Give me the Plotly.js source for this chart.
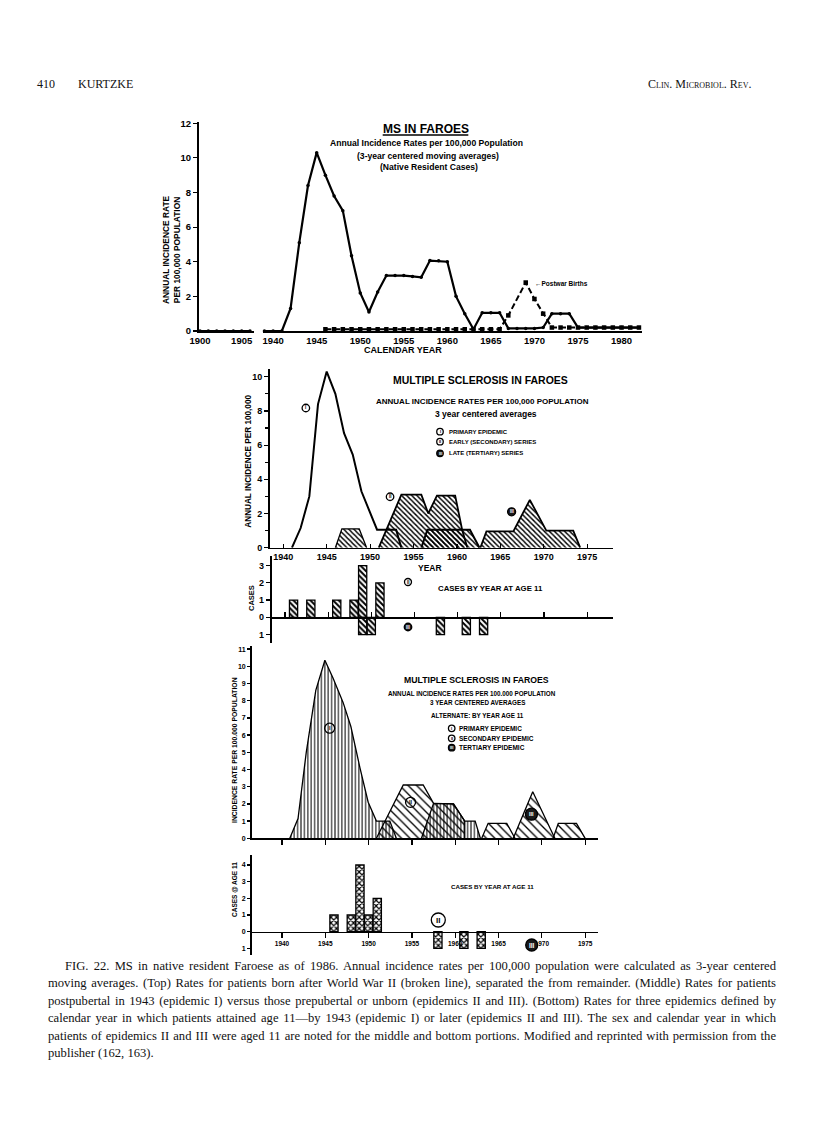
<!DOCTYPE html>
<html>
<head>
<meta charset="utf-8">
<script src="https://cdn.plot.ly/plotly-3.0.1.min.js"></script>
<style>
  body { margin:0; padding:0; background:#fff; }
  #chart { position:absolute; left:0; top:0; width:816px; height:1132px; }
  #caption { position:absolute; left:48px; top:958px; width:728px;
             font-family:'Liberation Serif', serif; font-size:12.6px; line-height:17.4px; color:#111; }
  #caption div { text-align:justify; text-align-last:justify; white-space:nowrap; }
  #caption div.first { padding-left:17px; }
  #caption div.last { text-align-last:left; }
</style>
</head>
<body>
<div id="chart"></div>
<div id="caption"></div>
<script>
// ---------------- DATA ----------------
// Top panel: all native resident cases (3-year centered moving averages)
const earlyYears = [1900, 1901, 1902, 1903, 1904, 1905, 1906];
const earlyRates = [0, 0, 0, 0, 0, 0, 0];
const calYears = [1938,1939,1940,1941,1942,1943,1944,1945,1946,1947,1948,1949,1950,1951,1952,1953,1954,1955,1956,1957,1958,1959,1960,1961,1962,1963,1964,1965,1966,1967,1968,1969,1970,1971,1972,1973,1974,1975,1976,1977,1978,1979,1980,1981,1982];
const allRates = [0,0,0,0,1.3,5.1,8.4,10.3,9.0,7.8,6.95,4.35,2.2,1.1,2.25,3.2,3.2,3.2,3.15,3.1,4.07,4.05,4.0,2.0,1.0,0.1,1.05,1.05,1.05,0.15,0.15,0.15,0.15,0.2,1.0,1.0,1.0,0.2,0.2,0.2,0.2,0.2,0.2,0.2,0.2];
const postwarYears = [1946,1947,1948,1949,1950,1951,1952,1953,1954,1955,1956,1957,1958,1959,1960,1961,1962,1963,1964,1965,1966,1967,1969,1970,1971,1972,1973,1974,1975,1976,1977,1978,1979,1980,1981,1982];
const postwarRates = [0.1,0.1,0.1,0.1,0.1,0.1,0.1,0.1,0.1,0.1,0.1,0.1,0.1,0.1,0.1,0.1,0.1,0.1,0.1,0.1,0.1,0.9,2.8,1.85,1.0,0.2,0.2,0.2,0.2,0.2,0.2,0.2,0.2,0.2,0.2,0.2];

// Middle panel: primary epidemic vs early (secondary) and late (tertiary) series
const midPrimaryYears = [1941,1942,1943,1944,1945,1946,1947,1948,1949,1950.8,1953,1953.6];
const midPrimaryRates = [0,1.15,3.0,8.4,10.3,9.0,6.7,5.45,3.3,1.05,1.05,0];
const midSecondaryAYears = [1946,1946.75,1948.75,1949.6];
const midSecondaryARates = [0,1.1,1.1,0];
const midSecondaryBYears = [1951.0,1953.6,1955.9,1956.7,1957.7,1959.8,1960.6,1961.2];
const midSecondaryBRates = [0,3.1,3.1,2.0,3.05,3.05,1.05,0];
const midTertiaryAYears = [1955.9,1956.6,1961.5,1962.6];
const midTertiaryARates = [0,1.05,1.05,0];
const midTertiaryBYears = [1962.7,1963.4,1966.5,1968.4,1970.3,1973.4,1974.2];
const midTertiaryBRates = [0,0.95,0.95,2.8,1.0,1.0,0];

// Middle cases by year at age 11 (II above, III below)
const midCasesIIYears = [1941,1943,1946,1948,1949,1951];
const midCasesII = [1,1,1,1,3,2];
const midCasesIIIYears = [1949,1950,1958,1961,1963];
const midCasesIII = [1,1,1,1,1];

// Bottom panel: alternate, by year age 11
const botPrimaryYears = [1940.9,1941.85,1942.8,1943.9,1944.95,1945.9,1947.05,1947.95,1949.0,1949.95,1950.9,1952.45,1953.2];
const botPrimaryRates = [0,1.15,5.0,8.6,10.35,9.3,7.9,6.5,4.1,2.1,1.0,1.0,0];
const botSecondaryYears = [1950.9,1954.0,1956.3,1957.5,1959.8,1961.1,1961.1];
const botSecondaryRates = [0,3.1,3.1,2.03,2.0,1.0,0];
const botSecondaryTailYears = [1956.1,1957.5,1959.8,1961.1,1962.3,1962.9];
const botSecondaryTailRates = [0,2.03,2.0,1.0,1.0,0];
const botTertiaryAYears = [1963.06,1963.8,1965.95,1966.9];
const botTertiaryARates = [0,0.87,0.87,0];
const botTertiaryBYears = [1966.7,1968.95,1971.5];
const botTertiaryBRates = [0,2.71,0];
const botTertiaryCYears = [1971.3,1971.9,1974.0,1975.0];
const botTertiaryCRates = [0,0.87,0.87,0];

const botCasesIIYears = [1946,1948,1949,1950,1951];
const botCasesII = [1,1,4,1,2];
const botCasesIIIYears = [1958,1961,1963];
const botCasesIII = [1,1,1];

const topYearTicks = [1940,1945,1950,1955,1960,1965,1970,1975,1980];
const earlyYearTicks = [1900,1905];
const midYearTicks = [1940,1945,1950,1955,1960,1965,1970,1975];

const captionLines = [
 "FIG. 22. MS in native resident Faroese as of 1986. Annual incidence rates per 100,000 population were calculated as 3-year centered",
 "moving averages. (Top) Rates for patients born after World War II (broken line), separated the from remainder. (Middle) Rates for patients",
 "postpubertal in 1943 (epidemic I) versus those prepubertal or unborn (epidemics II and III). (Bottom) Rates for three epidemics defined by",
 "calendar year in which patients attained age 11\u2014by 1943 (epidemic I) or later (epidemics II and III). The sex and calendar year in which",
 "patients of epidemics II and III were aged 11 are noted for the middle and bottom portions. Modified and reprinted with permission from the",
 "publisher (162, 163)."
];

// ---------------- HELPERS ----------------
const W = 816, H = 1132;
const fx = p => p / W;
const fy = p => 1 - p / H;
const SANS = 'Liberation Sans, Arial, sans-serif';
const SERIF = 'Liberation Serif, Times New Roman, serif';

function tf(size){ return {family: SANS, size: size, color: 'black', weight: 'bold'}; }

const baseAxis = {
  showgrid:false, zeroline:false, showline:true, linecolor:'black', linewidth:1.6,
  ticks:'outside', tickcolor:'black', tickwidth:1.2, ticklen:4, fixedrange:true
};
function ax(extra){ return Object.assign({}, baseAxis, extra); }

function ann(text, x, y, size, extra){
  return Object.assign({text:text, x:fx(x), y:fy(y), xref:'paper', yref:'paper',
    showarrow:false, xanchor:'center', yanchor:'middle',
    font:{family:SANS, size:size, color:'black'}}, extra || {});
}

const shapes = [];
const annotations = [];

function circleLabel(xref, yref, xa, ya, d, label, filled, fsize){
  shapes.push({type:'circle', xref:xref, yref:yref, xsizemode:'pixel', ysizemode:'pixel',
    xanchor:xa, yanchor:ya, x0:-d/2, x1:d/2, y0:-d/2, y1:d/2,
    line:{color:'black', width:1.3}, fillcolor: filled ? '#1a1a1a' : 'rgba(0,0,0,0)'});
  annotations.push({text:'<b>'+label+'</b>', x:xa, y:ya, xref:xref, yref:yref, showarrow:false,
    xanchor:'center', yanchor:'middle',
    font:{family:SANS, size:fsize, color: filled ? 'white' : 'black'}});
}
function paperCircle(xp, yp, d, label, filled, fsize){
  circleLabel('paper','paper', fx(xp), fy(yp), d, label, filled, fsize);
}

function hatchTrace(xs, ys, xa, ya, shape, size, sol, lw){
  return {x:xs, y:ys, xaxis:xa, yaxis:ya, type:'scatter', mode:'lines',
    line:{color:'black', width: lw || 1.3}, fill:'tozeroy', fillcolor:'rgba(0,0,0,0)',
    fillpattern:{shape:shape, size:size, solidity:sol, fgcolor:'black', bgcolor:'rgba(0,0,0,0)'},
    hoverinfo:'skip', cliponaxis:false};
}
function barTrace(xs, ys, xa, ya, shape){
  return {x:xs, y:ys, xaxis:xa, yaxis:ya, type:'bar', width:0.95,
    marker:{color:'white', line:{color:'black', width:1.3},
      pattern:{shape:shape, fgcolor:'black', bgcolor:'white', size:4, solidity:0.5}},
    hoverinfo:'skip'};
}

// ---------------- TRACES ----------------
const traces = [];
// Top panel
traces.push({x:earlyYears, y:earlyRates, xaxis:'x', yaxis:'y', type:'scatter', mode:'lines+markers',
  line:{color:'black', width:2}, marker:{color:'black', size:3.5}, cliponaxis:false, hoverinfo:'skip'});
traces.push({x:postwarYears, y:postwarRates, xaxis:'x2', yaxis:'y', type:'scatter', mode:'lines+markers',
  line:{color:'black', width:2, dash:'6px,3px'}, marker:{color:'black', size:4.5, symbol:'square'}, cliponaxis:false, hoverinfo:'skip'});
traces.push({x:calYears, y:allRates, xaxis:'x2', yaxis:'y', type:'scatter', mode:'lines+markers',
  line:{color:'black', width:2.2}, marker:{color:'black', size:3.5}, cliponaxis:false, hoverinfo:'skip'});

// Middle panel
traces.push(hatchTrace(midSecondaryAYears, midSecondaryARates, 'x3','y3','\\', 3.6, 0.38));
traces.push(hatchTrace(midSecondaryBYears, midSecondaryBRates, 'x3','y3','\\', 3.6, 0.38, 1.8));
traces.push(hatchTrace(midTertiaryAYears, midTertiaryARates, 'x3','y3','\\', 3.6, 0.38, 2));
traces.push(hatchTrace(midTertiaryBYears, midTertiaryBRates, 'x3','y3','\\', 3.6, 0.38, 1.8));
traces.push({x:midPrimaryYears, y:midPrimaryRates, xaxis:'x3', yaxis:'y3', type:'scatter', mode:'lines',
  line:{color:'black', width:2}, cliponaxis:false, hoverinfo:'skip'});

// Middle cases
traces.push(barTrace(midCasesIIYears, midCasesII, 'x4','y4','\\'));
traces.push(barTrace(midCasesIIIYears, midCasesIII.map(v => -v), 'x4','y4','\\'));

// Bottom panel
traces.push(hatchTrace(botPrimaryYears, botPrimaryRates, 'x5','y5','|', 3.4, 0.3));
traces.push(hatchTrace(botSecondaryYears, botSecondaryRates, 'x5','y5','\\', 6, 0.22));
traces.push(hatchTrace(botSecondaryTailYears, botSecondaryTailRates, 'x5','y5','|', 3.4, 0.3));
traces.push(hatchTrace(botTertiaryAYears, botTertiaryARates, 'x5','y5','\\', 6, 0.22));
traces.push(hatchTrace(botTertiaryBYears, botTertiaryBRates, 'x5','y5','\\', 6, 0.22));
traces.push(hatchTrace(botTertiaryCYears, botTertiaryCRates, 'x5','y5','\\', 6, 0.22));

// Bottom cases
traces.push(barTrace(botCasesIIYears, botCasesII, 'x6','y6','x'));
traces.push(barTrace(botCasesIIIYears, botCasesIII.map(v => -v), 'x6','y6','x'));

// ---------------- LAYOUT ----------------
const layout = {
  width:W, height:H, margin:{l:0,r:0,t:0,b:0}, showlegend:false,
  paper_bgcolor:'white', plot_bgcolor:'rgba(0,0,0,0)', barmode:'overlay',
  font:{family:SANS, color:'black'},
  // Top panel
  xaxis: ax({domain:[fx(199), fx(254)], range:[1899.88, 1906.48], anchor:'y',
    tickvals:earlyYearTicks, ticks:'', tickfont:tf(9.5), linewidth:2}),
  xaxis2: ax({domain:[fx(263), fx(642)], range:[1938.835, 1982.35], anchor:'y',
    tickvals:topYearTicks, ticks:'', tickfont:tf(9.5), linewidth:2}),
  yaxis: ax({domain:[fy(331), fy(122)], range:[0, 12.07], anchor:'x',
    tickvals:[0,2,4,6,8,10,12], tickfont:tf(9.5), linewidth:2}),
  // Middle panel
  xaxis3: ax({domain:[fx(270), fx(613)], range:[1938.47, 1977.98], anchor:'y3',
    tickvals:midYearTicks, ticks:'inside', ticklen:4, tickfont:tf(9)}),
  yaxis3: ax({domain:[fy(547.7), fy(369)], range:[0, 10.45], anchor:'x3',
    tickvals:[0,2,4,6,8,10], tickfont:tf(9), linewidth:2,
    minor:{tickvals:[1,3,5,7,9], ticks:'outside', ticklen:3, tickcolor:'black'}}),
  // Middle cases
  xaxis4: ax({domain:[fx(271.7), fx(613)], range:[1938.47, 1977.98], anchor:'free', position:fy(617.3),
    tickvals:midYearTicks, ticks:'inside', ticklen:5, showticklabels:false, linewidth:1.8}),
  yaxis4: ax({domain:[fy(643), fy(556)], range:[-1.49, 3.56], anchor:'x4',
    tickvals:[-1,0,1,2,3], ticktext:['1','0','1','2','3'], tickfont:tf(9), linewidth:2}),
  // Bottom panel
  xaxis5: ax({domain:[fx(251.7), fx(598.3)], range:[1936.5, 1976.52], anchor:'y5',
    tickvals:midYearTicks, ticks:'outside', ticklen:5, showticklabels:false}),
  yaxis5: ax({domain:[fy(838.3), fy(646)], range:[0, 11.18], anchor:'x5',
    tickvals:[0,1,2,3,4,5,6,7,8,9,10,11], tickfont:tf(7), ticklen:3}),
  // Bottom cases
  xaxis6: ax({domain:[fx(251.7), fx(598.3)], range:[1936.5, 1976.52], anchor:'free', position:fy(931.7),
    tickvals:midYearTicks, ticks:'outside', ticklen:5, tickfont:tf(6.5)}),
  yaxis6: ax({domain:[fy(955), fy(855)], range:[-1.4, 4.6], anchor:'x6',
    tickvals:[-1,0,1,2,3,4], ticktext:['1','0','1','2','3','4'], tickfont:tf(7), ticklen:3}),
  shapes: shapes,
  annotations: annotations
};

// ---- Header ----
annotations.push(ann('410', 35, 84, 12, {xanchor:'left', font:{family:SERIF, size:12, color:'#111'}}));
annotations.push(ann('KURTZKE', 76, 84, 12, {xanchor:'left', font:{family:SERIF, size:12, color:'#111'}}));
annotations.push(ann('Clin. Microbiol. Rev.', 753, 84, 12, {xanchor:'right', font:{family:SERIF, size:12, color:'#111', variant:'small-caps'}}));

// ---- Top panel texts ----
annotations.push(ann('<b>MS IN FAROES</b>', 425.5, 128.5, 12));
shapes.push({type:'line', xref:'paper', yref:'paper', x0:fx(382.7), x1:fx(468.3), y0:fy(135), y1:fy(135), line:{color:'black', width:1.3}});
annotations.push(ann('<b>Annual Incidence Rates per 100,000 Population</b>', 426.7, 143.3, 8.6));
annotations.push(ann('<b>(3-year centered moving averages)</b>', 428, 155.7, 8.6));
annotations.push(ann('<b>(Native Resident Cases)</b>', 429, 167.3, 8.6));
annotations.push(ann('<b>\u2190Postwar Births</b>', 533, 283.3, 6.5, {xanchor:'left'}));
annotations.push(ann('<b>ANNUAL INCIDENCE RATE<br>PER 100,000 POPULATION</b>', 171, 250, 8.4, {textangle:-90}));
annotations.push(ann('<b>CALENDAR YEAR</b>', 403, 350, 9));

// ---- Middle panel texts ----
annotations.push(ann('<b>MULTIPLE SCLEROSIS IN FAROES</b>', 480, 380, 10.5));
annotations.push(ann('<b>ANNUAL INCIDENCE RATES PER 100,000 POPULATION</b>', 482.5, 401, 8));
annotations.push(ann('<b>3 year centered averages</b>', 485.5, 414, 8.5));
paperCircle(440, 431.7, 6.5, 'I', false, 4);
paperCircle(440, 441.7, 6.5, 'II', false, 4);
paperCircle(440, 453.3, 6.5, 'III', true, 4);
annotations.push(ann('<b>PRIMARY EPIDEMIC</b>', 446.7, 431.7, 6, {xanchor:'left'}));
annotations.push(ann('<b>EARLY (SECONDARY) SERIES</b>', 446.7, 441.7, 6, {xanchor:'left'}));
annotations.push(ann('<b>LATE (TERTIARY) SERIES</b>', 446.7, 453.3, 6, {xanchor:'left'}));
circleLabel('x3','y3', 1942.6, 8.17, 7.5, 'I', false, 4.5);
circleLabel('x3','y3', 1952.3, 2.98, 7.5, 'II', false, 4.5);
circleLabel('x3','y3', 1966.3, 2.1, 8, 'III', true, 4.5);
annotations.push(ann('<b>ANNUAL INCIDENCE PER 100,000</b>', 249, 461.7, 8.2, {textangle:-90}));
annotations.push(ann('<b>YEAR</b>', 430, 567.7, 8.5));

// ---- Middle cases texts ----
paperCircle(408, 582, 7, 'II', false, 4.5);
annotations.push(ann('<b>CASES BY YEAR AT AGE 11</b>', 490, 588, 7.8));
paperCircle(408, 627, 7.5, 'III', true, 4.5);
annotations.push(ann('<b>CASES</b>', 251, 598, 7.5, {textangle:-90}));

// ---- Bottom panel texts ----
annotations.push(ann('<b>MULTIPLE SCLEROSIS IN FAROES</b>', 476, 680, 8.7));
annotations.push(ann('<b>ANNUAL INCIDENCE RATES PER 100.000 POPULATION</b>', 472, 693.3, 6.3));
annotations.push(ann('<b>3 YEAR CENTERED AVERAGES</b>', 477.5, 702.3, 6.3));
annotations.push(ann('<b>ALTERNATE: BY YEAR AGE 11</b>', 477, 715, 6.3));
paperCircle(451.7, 728.3, 6.5, 'I', false, 4);
paperCircle(451.7, 738.3, 6.5, 'II', false, 4);
paperCircle(451.7, 747.7, 6.5, 'III', true, 4);
annotations.push(ann('<b>PRIMARY EPIDEMIC</b>', 457.3, 728.3, 6.5, {xanchor:'left'}));
annotations.push(ann('<b>SECONDARY EPIDEMIC</b>', 457.3, 738.3, 6.5, {xanchor:'left'}));
annotations.push(ann('<b>TERTIARY EPIDEMIC</b>', 457.3, 747.7, 6.5, {xanchor:'left'}));
circleLabel('x5','y5', 1945.5, 6.4, 10, 'I', false, 5.5);
circleLabel('x5','y5', 1954.84, 2.09, 10, 'II', false, 5.5);
circleLabel('x5','y5', 1968.8, 1.4, 12, 'III', true, 5.5);
annotations.push(ann('<b>INCIDENCE RATE PER 100.000 POPULATION</b>', 234, 750, 6.8, {textangle:-90}));

// ---- Bottom cases texts ----
annotations.push(ann('<b>CASES BY YEAR AT AGE 11</b>', 492.5, 886.7, 6.2));
paperCircle(438.3, 920, 14, 'II', false, 8);
paperCircle(531.7, 945, 12, 'III', true, 6.5);
annotations.push(ann('<b>CASES @ AGE 11</b>', 234, 889, 6.5, {textangle:-90}));

Plotly.newPlot('chart', traces, layout, {staticPlot:true, displayModeBar:false});

// ---- Caption ----
const cap = document.getElementById('caption');
captionLines.forEach((line, i) => {
  const d = document.createElement('div');
  d.textContent = line;
  if (i === 0) d.className = 'first';
  if (i === captionLines.length - 1) d.className = 'last';
  cap.appendChild(d);
});
</script>
</body>
</html>
